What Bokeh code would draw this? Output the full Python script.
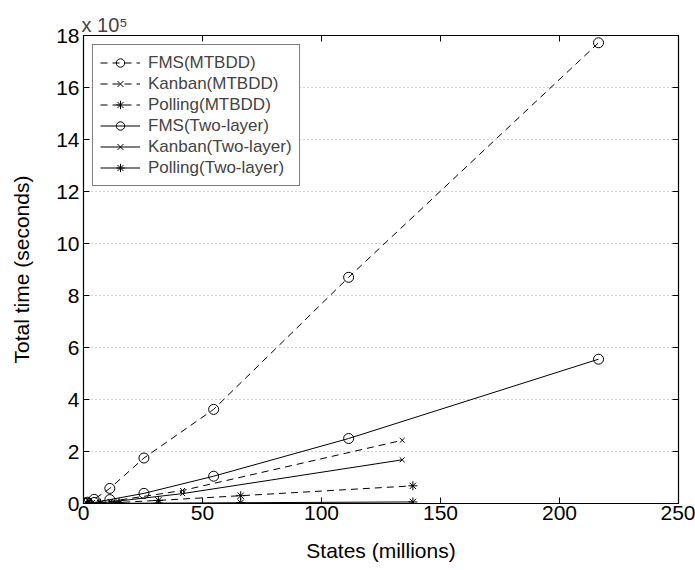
from bokeh.plotting import figure
from bokeh.models import LinearAxis, Legend, LegendItem, Range1d, FixedTicker
from bokeh.embed import file_html
from bokeh.resources import INLINE

# States (millions) and total time (x 10^5 seconds)
fms_states = [0.5378, 1.639, 4.459, 11.06, 25.40, 54.68, 111.4, 216.4]
fms_mtbdd = [0.01, 0.05, 0.16, 0.58, 1.75, 3.62, 8.70, 17.72]
fms_two = [0.003, 0.01, 0.04, 0.15, 0.39, 1.05, 2.50, 5.55]

kanban_states = [0.4545, 2.546, 11.26, 41.64, 133.9]
kanban_mtbdd = [0.002, 0.01, 0.08, 0.50, 2.43]
kanban_two = [0.001, 0.008, 0.06, 0.38, 1.68]

polling_states = [1.573, 3.342, 7.078, 14.94, 31.46, 66.06, 138.4]
polling_mtbdd = [0.002, 0.005, 0.012, 0.04, 0.12, 0.30, 0.68]
polling_two = [0.001, 0.002, 0.004, 0.008, 0.015, 0.03, 0.06]

x_ticks = [0, 50, 100, 150, 200, 250]
y_ticks = [0, 2, 4, 6, 8, 10, 12, 14, 16, 18]

FONT = "Liberation Sans"
TICK_FS = "21px"
LABEL_FS = "21px"
LEG_FS = "17px"

p = figure(width=695, height=570, output_backend="svg", toolbar_location=None,
           x_range=Range1d(0, 250), y_range=Range1d(0, 18),
           min_border_left=83, min_border_right=17, min_border_top=35, min_border_bottom=67)
p.background_fill_color = "white"
p.border_fill_color = "white"
p.outline_line_color = "black"
p.outline_line_width = 1.2

p.title.text = "x 10\u2075"
p.title.align = "left"
p.title.text_font = FONT
p.title.text_font_size = "20px"
p.title.text_font_style = "normal"
p.title.standoff = 0
p.title.offset = -2

p.xgrid.visible = False
p.ygrid.ticker = FixedTicker(ticks=y_ticks)
p.ygrid.grid_line_color = "#a0a0a0"
p.ygrid.grid_line_dash = "1 3"
p.ygrid.grid_line_width = 1

for ax in (p.xaxis[0], p.yaxis[0]):
    ax.major_label_text_font = FONT
    ax.major_label_text_font_size = TICK_FS
    ax.axis_label_text_font = FONT
    ax.axis_label_text_font_size = LABEL_FS
    ax.axis_label_text_font_style = "normal"
    ax.major_tick_in = 6
    ax.major_tick_out = 0
    ax.minor_tick_in = 0
    ax.minor_tick_out = 0
    ax.axis_line_color = "black"
    ax.major_tick_line_color = "black"
    ax.major_label_text_color = "black"
    ax.axis_label_text_color = "black"

p.xaxis[0].ticker = FixedTicker(ticks=x_ticks)
p.yaxis[0].ticker = FixedTicker(ticks=y_ticks)
p.xaxis[0].axis_label = "States (millions)"
p.yaxis[0].axis_label = "Total time (seconds)"
p.xaxis[0].major_label_standoff = 2
p.xaxis[0].axis_label_standoff = 16
p.yaxis[0].major_label_standoff = 4
p.yaxis[0].axis_label_standoff = 20

def tick_only_axis(ticks):
    return LinearAxis(ticker=FixedTicker(ticks=ticks), major_label_text_font_size="1px",
                      major_label_text_color=None, major_label_standoff=0,
                      major_tick_in=6, major_tick_out=0, minor_tick_in=0, minor_tick_out=0,
                      axis_line_color="black", major_tick_line_color="black")

p.add_layout(tick_only_axis(x_ticks), "above")
p.add_layout(tick_only_axis(y_ticks), "right")

DASH = "7 5"
items = []

def series(xs, ys, dash, marker, size, label):
    ln = p.line(xs, ys, line_color="black", line_width=1, line_dash=dash)
    mk = p.scatter(xs, ys, marker=marker, size=size, line_color="black",
                   fill_color=None, line_width=1)
    items.append(LegendItem(label=label, renderers=[ln, mk]))

series(fms_states, fms_mtbdd, DASH, "circle", 10, "FMS(MTBDD)")
series(kanban_states, kanban_mtbdd, DASH, "x", 7, "Kanban(MTBDD)")
series(polling_states, polling_mtbdd, DASH, "asterisk", 9, "Polling(MTBDD)")
series(fms_states, fms_two, "solid", "circle", 10, "FMS(Two-layer)")
series(kanban_states, kanban_two, "solid", "x", 7, "Kanban(Two-layer)")
series(polling_states, polling_two, "solid", "asterisk", 9, "Polling(Two-layer)")

legend = Legend(items=items, location="top_left")
legend.label_text_font = FONT
legend.label_text_font_size = LEG_FS
legend.label_height = 21
legend.glyph_height = 21
legend.glyph_width = 40
legend.spacing = 0
legend.padding = 7
legend.margin = 9
legend.label_standoff = 8
legend.border_line_color = "black"
legend.border_line_width = 1
legend.background_fill_alpha = 1
p.add_layout(legend, "center")

open("out.html", "w").write(file_html(p, INLINE))
